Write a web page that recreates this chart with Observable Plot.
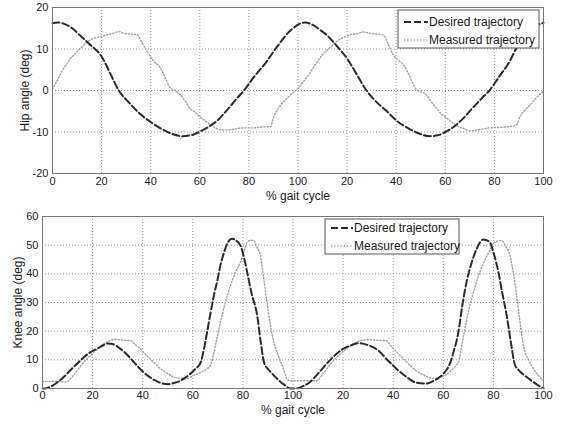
<!DOCTYPE html>
<html>
<head>
<meta charset="utf-8">
<script src="https://cdn.jsdelivr.net/npm/d3@7"></script>
<script src="https://cdn.jsdelivr.net/npm/@observablehq/plot@0.6"></script>
<style>
  body { margin: 0; background: #fff; }
  #chart svg { display: block; }
</style>
</head>
<body>
<div id="chart"></div>
<script>
// ---- data ----
const xTicks = [0, 20, 40, 60, 80, 100, 120, 140, 160, 180, 200];
const hipTicks = [-20, -10, 0, 10, 20];
const kneeTicks = [0, 10, 20, 30, 40, 50, 60];
const seriesNames = ["Desired trajectory", "Measured trajectory"];

const hipDesiredX = [0,2,5,8,11,15,20,24,27,31,36,40,44,48,53,57,60,64,67,71,75,78,82,87,92,97,
  103,106,109,112,116,120,124,127,131,136,140,145,149,153.5,157,160,164,167,171,175,178,182,186,189,193,197,200];
const hipDesiredY = [16.2,16.4,16.0,15.0,13.4,11.2,8.2,3.5,0,-2.8,-5.8,-7.6,-9.1,-10.3,-11.0,-10.7,-9.9,-8.6,-7.3,-4.8,-2.0,0,3.2,6.8,11,14.5,
  16.4,15.8,14.6,13.2,10.6,7.7,3.8,0.8,-2.2,-4.9,-7.2,-9.1,-10.3,-11.0,-10.8,-10.0,-8.5,-6.9,-4.3,-1.8,0,3.4,6.8,10.2,13.2,15.6,16.3];

const hipMeasuredX = [0,2,4,6,9,11.5,14,17,20,22,25,27,29,32,34.5,36,38.6,41,44,46,48,50,52,54,56,58,60,62,64.5,67,70,73,76,79,82,85,88.8,90,91,93,95.6,98,
  99.5,102,104.8,107,110,113,115.7,118,121,124,126.6,129,132,134.7,136.5,138.8,141,143,145,148.3,150,152.3,154,156.4,158,160.5,163,165,167.3,170,173,176,178,182,186,189,190.4,192,194.5,197,200];
const hipMeasuredY = [0.3,2.5,4.8,6.6,8.8,10.2,11.6,12.6,13.0,13.4,13.8,14.2,13.8,13.6,13.5,12,9.4,7.2,5.4,3,0.6,0,-1,-2.5,-4.3,-5.2,-6.3,-7.2,-8.3,-9.2,-9.5,-9.4,-9.1,-9.0,-9.0,-8.8,-8.7,-6.5,-5.2,-3.5,-1.8,-0.5,
  0.2,2.0,4.2,6.2,8.6,10.3,11.8,12.6,13.4,13.7,14.1,13.8,13.6,13.4,11.5,8.6,7.2,6.2,4,0.2,-0.3,-1,-2.5,-4.3,-5.4,-6.6,-7.8,-8.6,-9.1,-9.7,-9.5,-9.2,-9.0,-8.9,-8.7,-8.3,-6.3,-5,-3.5,-1.8,-0.2];

const kneeDesiredX = [0,1.5,4,6,8.5,11,14,16.5,19,22,24,26,28,31,34,36.5,39,42,45,47,50,52,55,57,59,61,63,64.5,65.7,67,68.4,70,71,72.5,74,75.7,77,79,80.5,81.7,83.5,85.7,87,88.4,90,91,93,95,97,98.5,100,
  102,104,106.7,110,113.4,117,120,123,126,129,132,135,137.3,140,142.7,146,149.3,153.3,156,158.6,161,162.6,164,166,167.5,169.3,171,173.3,176,178.6,180,182,183.5,185.3,187,188.6,190,193.3,196,198,200];
const kneeDesiredY = [0,0.1,1.0,2.2,4.0,6.3,8.8,10.9,12.6,14.0,15.0,15.7,15.5,13.9,11.6,9.2,6.8,4.5,2.8,2.0,1.5,1.8,2.7,3.8,5.1,6.8,8.8,14,19.6,26,32.4,38.5,42.9,47.5,51,52.2,51.8,49.9,45.5,40.6,33,25.5,17,9.2,6.8,5.8,4,2.3,1.0,0.1,0,
  0.1,0.8,2.2,5.2,8.6,11.8,13.8,15.0,15.8,15.4,14.4,12.5,10.3,8,5.8,3.6,2.0,1.7,2.6,4.0,6.2,8.6,12.5,19.6,28.5,37.2,43,48.7,52,51,47.5,40.6,33.5,25.5,16,8.2,6.5,4.0,2.2,1.0,0.1];

const kneeMeasuredX = [0,3,6,9.4,11.8,14,16.5,18.5,20.5,23,25.8,28.5,31,33,35.1,37,39.1,41,43.1,45,47.1,50,52.4,55,57.7,60.4,63.1,65,67.1,69,71,73,75,77,79,80.5,81.7,83,84.3,85.5,87,88.3,89.6,91,92.3,94,96.1,97.5,98.7,
  101.4,105,109.4,112,114.7,117,120,122.5,125.4,128,130.7,134,137.3,139,141.3,144,146.6,149,152,154,156,158,160,162.6,164.5,166,168,170.6,172.5,174.6,177,179,180.5,183.3,185,186.6,188,189.3,190.5,192,194,196,198,200];
const kneeMeasuredY = [2.4,2.5,2.4,2.3,4,6.5,9.2,11,12.7,14.5,16.2,17.1,17,16.8,16.7,15.3,13.8,12,10.3,8.6,6.9,5.2,4.0,3.6,3.5,4.6,5.6,6.5,8.2,15,23.1,30,35.9,40.5,44,48,51,51.7,51.6,49.5,46.4,38.5,30.1,22,16.2,11.8,7,3.5,2.7,
  2.7,2.7,2.7,5.2,8.2,10.5,12.8,14.6,16.2,16.9,17.0,16.8,16.7,15,12.8,10.4,8.2,6.3,4.8,4.0,3.5,3.8,4.2,5.8,7.5,9.2,18,29,35,40.6,45.5,49,51,51.6,49.5,46.4,40,32.4,24,14.9,10,6.9,4.5,2.7];

// ---- build tables ----
const toRows = (xs, ys) => xs.map((x, i) => ({x, y: ys[i]}));
const hipDesired = toRows(hipDesiredX, hipDesiredY);
const hipMeasured = toRows(hipMeasuredX, hipMeasuredY);
const kneeDesired = toRows(kneeDesiredX, kneeDesiredY);
const kneeMeasured = toRows(kneeMeasuredX, kneeMeasuredY);

const fmtX = d => String(d > 100 ? d - 100 : d);
const fmtY = d => String(d);
const FONT = "'Liberation Sans', Arial, sans-serif";
const TEXT = "#1a1a1a";
const desiredStyle = {stroke: "#2b2b2b", strokeWidth: 2, strokeDasharray: "7,3"};
const measuredStyle = {stroke: "#a0a0a0", strokeWidth: 1.4, strokeDasharray: "1.2,2"};

function panel({height, mt, mb, ml, yDomain, yTicks, desired, measured, yLabel, yLabelDx, xLabelDy, xPad}) {
  return Plot.plot({
    width: 566, height,
    marginTop: mt, marginBottom: mb, marginLeft: ml, marginRight: 23,
    style: {fontFamily: FONT, fontSize: "12px", color: TEXT, background: "#fff", overflow: "visible"},
    x: {domain: [0, 200]},
    y: {domain: yDomain},
    marks: [
      Plot.gridX(xTicks, {stroke: "#9a9a9a", strokeOpacity: 1, strokeDasharray: "1,2"}),
      Plot.gridY(yTicks, {stroke: "#9a9a9a", strokeOpacity: 1, strokeDasharray: "1,2"}),
      Plot.line(measured, {x: "x", y: "y", curve: "monotone-x", ...measuredStyle}),
      Plot.line(desired, {x: "x", y: "y", curve: "monotone-x", ...desiredStyle}),
      Plot.frame({stroke: "#777", strokeWidth: 1}),
      Plot.axisX({ticks: xTicks, tickFormat: fmtX, tickSize: 0, tickPadding: xPad, label: null, fontSize: 11}),
      Plot.axisY({ticks: yTicks, tickFormat: fmtY, tickSize: 0, tickPadding: 4, label: null, fontSize: 11}),
      Plot.text(["% gait cycle"], {frameAnchor: "bottom", dy: xLabelDy, fontSize: 12, fill: TEXT}),
      Plot.text([yLabel], {frameAnchor: "left", textAnchor: "middle", rotate: -90, dx: yLabelDx, fontSize: 12, fill: TEXT})
    ]
  });
}

function addLegend(svgNode, box) {
  const svg = d3.select(svgNode);
  const g = svg.append("g").attr("font-family", FONT).attr("font-size", 12).attr("fill", TEXT)
    .attr("text-anchor", "start");
  g.append("rect").attr("x", box.x).attr("y", box.y).attr("width", box.w).attr("height", box.h)
    .attr("fill", "#fff").attr("stroke", "#555").attr("stroke-width", 1);
  const styles = [desiredStyle, measuredStyle];
  seriesNames.forEach((name, i) => {
    const yy = box.y + box.row0 + i * box.rowStep;
    const s = styles[i];
    g.append("line").attr("x1", box.x + box.s0).attr("x2", box.x + box.s1).attr("y1", yy).attr("y2", yy)
      .attr("stroke", s.stroke).attr("stroke-width", s.strokeWidth).attr("stroke-dasharray", s.strokeDasharray);
    g.append("text").attr("x", box.x + box.s1 + 1).attr("y", yy).attr("dy", "0.35em")
      .attr("text-anchor", "start").text(name);
  });
}

const hipPanel = panel({height: 205, mt: 7, mb: 32, ml: 52, yDomain: [-20, 20], yTicks: hipTicks,
  desired: hipDesired, measured: hipMeasured, yLabel: "Hip angle (deg)", yLabelDx: -27, xLabelDy: 26, xPad: 4});
const kneePanel = panel({height: 219, mt: 11, mb: 36, ml: 42, yDomain: [0, 60], yTicks: kneeTicks,
  desired: kneeDesired, measured: kneeMeasured, yLabel: "Knee angle (deg)", yLabelDx: -24, xLabelDy: 25, xPad: 3});

addLegend(hipPanel, {x: 398, y: 10, w: 141, h: 38, row0: 12, rowStep: 18, s0: 6, s1: 30});
addLegend(kneePanel, {x: 325, y: 14, w: 134, h: 35, row0: 9, rowStep: 18, s0: 6, s1: 28});

document.getElementById("chart").append(hipPanel, kneePanel);
</script>
</body>
</html>
